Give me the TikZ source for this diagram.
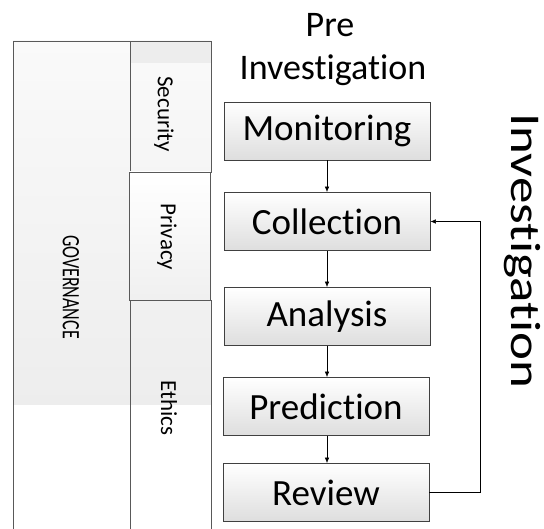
\documentclass[tikz,border=0pt]{standalone}
\usepackage{fontspec}
\setmainfont{Carlito}[Ligatures={NoCommon,NoContextual}]
\usetikzlibrary{arrows.meta}
\begin{document}
\begin{tikzpicture}[x=1pt,y=-1pt,
  side/.style={draw=black!65,line width=0.8pt,anchor=north west,inner sep=0pt},
  flow/.style={draw=black!75,line width=0.8pt,top color=white,bottom color=black!13,
    minimum width=206pt,minimum height=58pt,inner sep=0pt,font=\fontsize{37}{44}\selectfont},
  sidelbl/.style={rotate=-90,font=\fontsize{23}{27}\selectfont,inner sep=0pt},
  conn/.style={line width=0.6pt,-{Latex[length=5.5pt,width=4.5pt]}}]
\useasboundingbox (0,0) rectangle (544,529);
\begin{scope}
\clip (0,0) rectangle (544,529);
% backgrounds of the side bars
\fill[white] (13,41) rectangle (211,540);
\shade[top color=black!2,bottom color=black!7] (13,41) rectangle (211,405);
\fill[black!7] (130,41) rectangle (211,63);
\node[side,minimum width=117pt,minimum height=499pt] (gov) at (13,41) {};
\node[side,minimum width=81pt,minimum height=131pt] (sec) at (130,41) {};
\node[side,minimum width=81pt,minimum height=240pt] (eth) at (130,300) {};
\shade[top color=white,bottom color=black!6] (129,172) rectangle (210,300);
\node[side,minimum width=81pt,minimum height=128pt] (pri) at (129,172) {};
\end{scope}
\node[rotate=-90,inner sep=0pt,font=\fontsize{25}{30}\selectfont] (govt) at (71,287) {\scalebox{0.72}[1]{GOVERNANCE}};
\node[sidelbl] (sect) at (164,114) {Security};
\node[sidelbl] (prit) at (167,237) {Privacy};
\node[sidelbl] (etht) at (169,408) {Ethics};
% titles
\node[font=\fontsize{36}{43}\selectfont,anchor=base] (pre) at (330,37) {Pre};
\node[font=\fontsize{36}{43}\selectfont,anchor=base] (preinv) at (333,80) {Investigation};
\node[rotate=-90,font=\fontsize{53}{60}\selectfont,inner sep=0pt,anchor=base] (inv) at (511,251) {\scalebox{1}[0.8]{Investigation}};
% flow
\node[flow] (mon) at (327,131) {Monitoring};
\node[flow] (col) at (327,221.5) {Collection};
\node[flow] (ana) at (327,316.5) {Analysis};
\node[flow] (pred) at (326,406.5) {Prediction};
\node[flow] (rev) at (326,492.5) {Review};
\draw[conn] (mon.south -| 327,0) -- (col.north -| 327,0);
\draw[conn] (col.south -| 327,0) -- (ana.north -| 327,0);
\draw[conn] (ana.south -| 327,0) -- (pred.north -| 327,0);
\draw[conn] (pred.south -| 327,0) -- (rev.north -| 327,0);
\coordinate (fb) at (480,0);
\draw[conn] (rev.east) -- (rev.east -| fb) -- (col.east -| fb) -- (col.east);
\end{tikzpicture}
\end{document}
